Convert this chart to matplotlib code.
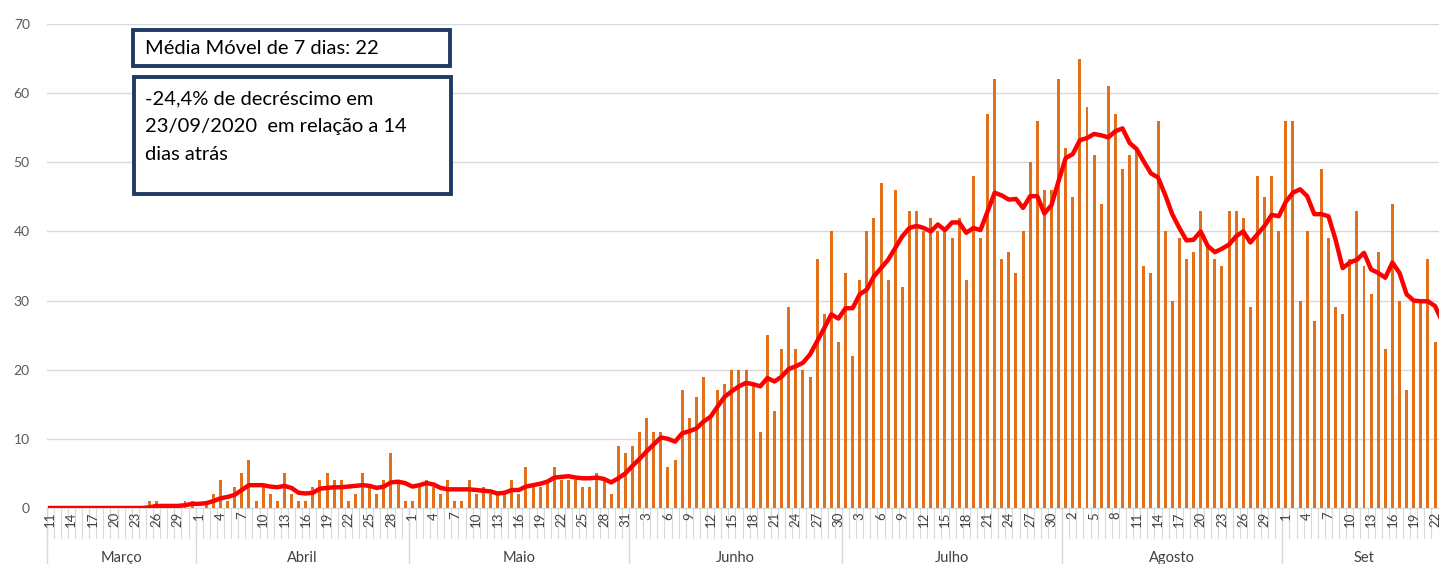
import matplotlib
matplotlib.use("Agg")
import matplotlib.pyplot as plt
from matplotlib.patches import Rectangle
import numpy as np
import pandas as pd

plt.rcParams['font.family'] = ['Lato', 'DejaVu Sans']

# casos diários, 11/03/2020 a 23/09/2020
cases_mar = [0, 0, 0, 0, 0, 0, 0, 0, 0, 0, 0, 0, 0, 0, 1, 1, 0, 0, 0, 1, 1]
cases_abr = [0, 1, 2, 4, 1, 3, 5, 7, 1, 3, 2, 1, 5, 2, 1, 1, 3, 4, 5, 4,
             4, 1, 2, 5, 3, 2, 4, 8, 4, 1]
cases_mai = [1, 3, 4, 3, 2, 4, 1, 1, 4, 2, 3, 2, 2, 2, 4, 2, 6, 3, 3, 4,
             6, 4, 4, 4, 3, 3, 5, 4, 2, 9, 8]
cases_jun = [9, 11, 13, 11, 11, 6, 7, 17, 13, 16, 19, 13, 17, 18, 20, 20, 20, 18, 11, 25,
             14, 23, 29, 23, 20, 19, 36, 28, 40, 24]
cases_jul = [34, 22, 33, 40, 42, 47, 33, 46, 32, 43, 43, 40, 42, 40, 40, 39, 42, 33, 48, 39,
             57, 62, 36, 37, 34, 40, 50, 56, 46, 46, 62]
cases_ago = [52, 45, 65, 58, 51, 44, 61, 57, 49, 51, 52, 35, 34, 56, 40, 30, 39, 36, 37, 43,
             38, 36, 35, 43, 43, 42, 29, 48, 45, 48, 40]
cases_set = [56, 56, 30, 40, 27, 49, 39, 29, 28, 36, 43, 35, 31, 37, 23, 44, 30, 17, 30, 30,
             36, 24, 29]

# média móvel de 7 dias
mm_mar = [0, 0, 0, 0, 0, 0, 0, 0, 0, 0, 0, 0, 0, 0, 0.1, 0.3, 0.3, 0.3, 0.3, 0.4, 0.6]
mm_abr = [0.6, 0.7, 1.0, 1.4, 1.6, 1.9, 2.6, 3.3, 3.3, 3.3, 3.1, 3.0, 3.2, 2.9, 2.2, 2.1, 2.2, 2.8, 2.9, 3.0,
          3.0, 3.1, 3.2, 3.3, 3.2, 2.9, 3.1, 3.7, 3.8, 3.6]
mm_mai = [3.1, 3.3, 3.6, 3.4, 2.9, 2.7, 2.7, 2.7, 2.7, 2.6, 2.5, 2.4, 2.1, 2.2, 2.6, 2.6, 3.1, 3.3, 3.5, 3.8,
          4.4, 4.5, 4.6, 4.4, 4.3, 4.3, 4.4, 4.2, 3.7, 4.3, 5.0]
mm_jun = [6.1, 7.1, 8.2, 9.2, 10.2, 10.0, 9.6, 10.8, 11.1, 11.5, 12.5, 13.2, 14.7, 16.1, 16.9, 17.6, 18.1, 17.9, 17.6, 18.8,
          18.3, 19.0, 20.1, 20.5, 21.0, 22.2, 24.1, 26.0, 28.0, 27.4]
mm_jul = [28.9, 28.9, 30.9, 31.6, 33.5, 34.7, 35.9, 37.6, 39.3, 40.5, 40.8, 40.5, 40.0, 41.0, 40.2, 41.3, 41.3, 39.8, 40.5, 40.2,
          42.9, 45.6, 45.2, 44.6, 44.7, 43.4, 45.1, 45.1, 42.6, 43.8, 47.3]
mm_ago = [50.6, 51.2, 53.2, 53.5, 54.1, 53.9, 53.6, 54.5, 54.9, 52.8, 51.9, 50.1, 48.4, 47.8, 45.3, 42.5, 40.5, 38.7, 38.8, 40.0,
          37.9, 37.0, 37.5, 38.1, 39.3, 40.0, 38.4, 39.6, 40.8, 42.4, 42.2]
mm_set = [44.3, 45.6, 46.1, 45.1, 42.5, 42.5, 42.2, 38.8, 34.7, 35.5, 35.9, 36.9, 34.5, 34.0, 33.3, 35.5, 34.0, 30.9, 30.0, 29.9,
          29.9, 29.2, 27.0]

month_names = ["Março", "Abril", "Maio", "Junho", "Julho", "Agosto", "Set"]

cases = cases_mar + cases_abr + cases_mai + cases_jun + cases_jul + cases_ago + cases_set
media = mm_mar + mm_abr + mm_mai + mm_jun + mm_jul + mm_ago + mm_set
dates = pd.date_range("2020-03-11", periods=len(cases), freq="D")
x = np.arange(len(cases))
month_lens = [len(m) for m in (cases_mar, cases_abr, cases_mai, cases_jun, cases_jul, cases_ago, cases_set)]

W, H = 1439, 564
fig = plt.figure(figsize=(W / 100, H / 100), dpi=100)
ax = fig.add_axes([46.5 / W, (H - 508) / H, 1 - 46.5 / W, 484 / H])

ax.bar(x, cases, width=0.42, color="#E2701A", zorder=2)
ax.plot(x, media, color="#FF0000", lw=3.2, zorder=3, solid_joinstyle="round")

ax.set_xlim(-0.5, 195.56)
ax.set_ylim(0, 70)
ax.set_yticks(range(0, 71, 10))
ax.yaxis.grid(True, color="#d9d9d9", lw=1)
ax.set_axisbelow(True)
ax.tick_params(axis="y", length=0, pad=12, labelsize=10, labelcolor="#595959")
ax.set_xticks([])
for s in ["top", "right", "left"]:
    ax.spines[s].set_visible(False)
ax.spines["bottom"].set_color("#d9d9d9")

tr = ax.get_xaxis_transform()
# rótulos dos dias (a cada 3 dias)
for i in range(0, len(x), 3):
    ax.text(i, -0.008, str(dates[i].day), transform=tr, rotation=90, ha="center", va="top",
            fontsize=9.5, color="#404040", clip_on=False)
# linhas separadoras dos dias
for i in range(len(x)):
    ax.plot([i - 0.5, i - 0.5], [0, -0.062], transform=tr, color="#d9d9d9", lw=0.8, clip_on=False)
# meses
start = 0
for name, n in zip(month_names, month_lens):
    ax.plot([start - 0.5, start - 0.5], [0, -0.13], transform=tr, color="#d9d9d9", lw=1, clip_on=False)
    ax.text(start + (n - 1) / 2, -0.104, name, transform=tr, ha="center", va="center",
            fontsize=10.5, color="#404040", clip_on=False)
    start += n

# caixas de texto
def px_box(x0, y0, x1, y1):
    return Rectangle((x0 / W, 1 - y1 / H), (x1 - x0) / W, (y1 - y0) / H, transform=fig.transFigure,
                     facecolor="white", edgecolor="#1f3a63", lw=2.8, zorder=5)

fig.patches.append(px_box(133, 30, 450, 66))
fig.patches.append(px_box(134, 77, 451, 194))
fig.text(145 / W, 1 - 49 / H, "Média Móvel de 7 dias: 22", fontsize=14.5, va="center", zorder=6)
lines = ["-24,4% de decréscimo em", "23/09/2020  em relação a 14", "dias atrás"]
for k, t in enumerate(lines):
    fig.text(145 / W, 1 - (99 + 27.5 * k) / H, t, fontsize=14.5, va="center", zorder=6)

fig.savefig("out.png", dpi=100)
